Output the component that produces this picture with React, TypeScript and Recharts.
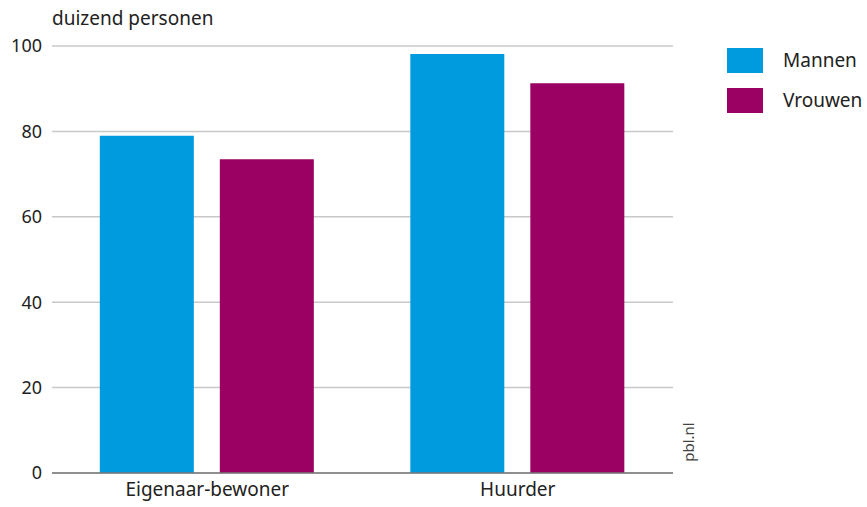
import React from "react";
import { BarChart, Bar, XAxis, YAxis, CartesianGrid, Legend } from "recharts";

const categories = ["Eigenaar-bewoner", "Huurder"];
const mannen = [79, 98.1];
const vrouwen = [73.5, 91.3];
const yTicks = [0, 20, 40, 60, 80, 100];
const seriesNames = ["Mannen", "Vrouwen"];
const colors = ["#009ade", "#9b0063"];

const data = categories.map((c, i) => ({ name: c, Mannen: mannen[i], Vrouwen: vrouwen[i] }));

const FONT = "'Noto Sans', 'Open Sans', sans-serif";

const LegendContent = () => (
  <div style={{ fontFamily: FONT }}>
    {seriesNames.map((n, i) => (
      <div key={n} style={{ display: "flex", alignItems: "center", height: 40 }}>
        <div style={{ width: 36, height: 25, background: colors[i], marginRight: 20 }} />
        <span style={{ fontSize: 19, color: "#222" }}>{n}</span>
      </div>
    ))}
  </div>
);

export default function App() {
  return (
    <div style={{ position: "absolute", left: 0, top: 0, width: 867, height: 507, background: "#fff", fontFamily: FONT }}>
      <div style={{ position: "absolute", left: 52, top: 5, fontSize: 19, color: "#222" }}>duizend personen</div>
      <div
        style={{
          position: "absolute",
          left: 688 - 30,
          top: 442 - 10,
          width: 60,
          height: 20,
          lineHeight: "20px",
          textAlign: "center",
          fontSize: 15,
          color: "#444",
          transform: "rotate(-90deg)",
        }}
      >
        pbl.nl
      </div>
      <BarChart
        width={867}
        height={507}
        data={data}
        margin={{ top: 46, right: 54, bottom: 0, left: 0 }}
        barCategoryGap="15.4%"
        barGap={26}
      >
        <CartesianGrid vertical={false} stroke="#c8c8c8" strokeWidth={1.5} />
        <XAxis
          dataKey="name"
          height={34}
          tickLine={false}
          axisLine={{ stroke: "#777", strokeWidth: 1.5 }}
          tick={{ fontSize: 19, fill: "#222", fontFamily: FONT }}
          tickMargin={4}
        />
        <YAxis
          width={52}
          domain={[0, 100]}
          ticks={yTicks}
          axisLine={false}
          tickLine={false}
          tickSize={0}
          tickMargin={10}
          tick={{ fontSize: 18, fill: "#222", fontFamily: FONT }}
        />
        <Legend
          layout="vertical"
          verticalAlign="top"
          align="right"
          content={<LegendContent />}
          wrapperStyle={{ left: 727, top: 40, width: 140 }}
        />
        <Bar dataKey="Mannen" fill={colors[0]} isAnimationActive={false} />
        <Bar dataKey="Vrouwen" fill={colors[1]} isAnimationActive={false} />
      </BarChart>
    </div>
  );
}
